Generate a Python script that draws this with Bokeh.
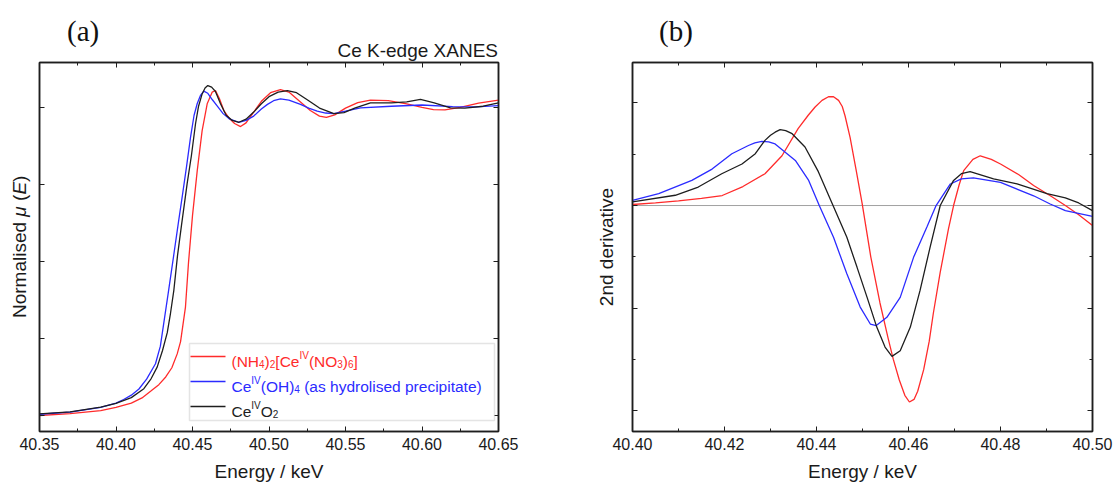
import math
from bokeh.plotting import figure
from bokeh.models import (LinearAxis, FixedTicker, PrintfTickFormatter, Label,
                          BoxAnnotation, Arrow, Span, CustomJSTickFormatter, Div)
from bokeh.layouts import row, column
from bokeh.embed import file_html
from bokeh.resources import INLINE

# ---------------- data: panel (a) Ce K-edge XANES ----------------
red_energy_a = [40.350, 40.370, 40.390, 40.400, 40.410, 40.417, 40.423, 40.428, 40.4325, 40.4365,
                40.4400, 40.4422, 40.4454, 40.4474, 40.4500, 40.4531, 40.4563, 40.4596, 40.4629, 40.4650,
                40.4675, 40.4705, 40.4740, 40.4775, 40.4814, 40.4850, 40.4900, 40.4950, 40.5010, 40.5075,
                40.5130, 40.5200, 40.5270, 40.5330, 40.5375, 40.5430, 40.5500, 40.5580, 40.5663, 40.5780,
                40.5900, 40.6000, 40.6075, 40.6150, 40.6250, 40.6370, 40.6500]
red_mu_a = [0.000, 0.006, 0.016, 0.026, 0.040, 0.057, 0.080, 0.100, 0.125, 0.155,
            0.200, 0.240, 0.352, 0.497, 0.649, 0.795, 0.925, 1.012, 1.050, 1.055,
            1.030, 0.990, 0.965, 0.948, 0.938, 0.950, 0.985, 1.020, 1.048, 1.058,
            1.050, 1.020, 0.990, 0.972, 0.968, 0.976, 0.998, 1.016, 1.024, 1.022,
            1.012, 1.000, 0.993, 0.992, 1.000, 1.014, 1.024]

blue_energy_a = [40.350, 40.370, 40.390, 40.400, 40.405, 40.410, 40.415, 40.420, 40.4258, 40.4290,
                 40.4312, 40.4343, 40.4376, 40.4408, 40.4435, 40.4461, 40.4487, 40.4510, 40.4531, 40.4552,
                 40.4574, 40.4600, 40.4630, 40.4661, 40.4700, 40.4740, 40.4803, 40.4850, 40.4900, 40.4950,
                 40.4990, 40.5030, 40.5075, 40.5130, 40.5206, 40.5260, 40.5315, 40.5370, 40.5424, 40.5500,
                 40.5598, 40.5800, 40.6000, 40.6200, 40.6350, 40.6500]
blue_mu_a = [0.004, 0.011, 0.026, 0.040, 0.052, 0.066, 0.086, 0.118, 0.168, 0.225,
             0.299, 0.403, 0.516, 0.627, 0.718, 0.808, 0.903, 0.974, 1.013, 1.039,
             1.053, 1.046, 1.025, 1.005, 0.980, 0.963, 0.952, 0.958, 0.972, 0.995,
             1.010, 1.022, 1.028, 1.024, 1.010, 0.998, 0.988, 0.982, 0.980, 0.988,
             0.999, 1.004, 1.008, 1.003, 1.002, 1.006]

black_energy_a = [40.350, 40.370, 40.390, 40.400, 40.410, 40.4182, 40.4230, 40.4269, 40.4304, 40.4335,
                  40.4356, 40.4378, 40.4402, 40.4428, 40.4465, 40.4493, 40.4520, 40.4539, 40.4563, 40.4582,
                  40.4600, 40.4625, 40.4650, 40.4683, 40.4720, 40.4760, 40.4803, 40.4850, 40.4900, 40.4950,
                  40.5000, 40.5060, 40.5120, 40.5180, 40.5250, 40.5330, 40.5424, 40.5490, 40.5560, 40.5663,
                  40.5800, 40.5900, 40.5990, 40.6080, 40.6186, 40.6280, 40.6400, 40.6500]
black_mu_a = [0.005, 0.012, 0.027, 0.039, 0.058, 0.087, 0.120, 0.157, 0.211, 0.269,
              0.331, 0.406, 0.519, 0.617, 0.753, 0.844, 0.948, 1.003, 1.044, 1.063,
              1.071, 1.066, 1.052, 1.012, 0.975, 0.958, 0.952, 0.962, 0.985, 1.012,
              1.035, 1.050, 1.055, 1.048, 1.025, 0.998, 0.980, 0.983, 0.998, 1.015,
              1.015, 1.018, 1.026, 1.015, 0.999, 0.998, 1.004, 1.015]

# ---------------- data: panel (b) 2nd derivative ----------------
red_energy_b = [40.400, 40.405, 40.410, 40.415, 40.4195, 40.4240, 40.4288, 40.4325, 40.4360, 40.4382,
                40.4397, 40.4412, 40.4426, 40.4437, 40.4448, 40.4456, 40.4462, 40.4473, 40.4486, 40.4499,
                40.4518, 40.4538, 40.4556, 40.4567, 40.4580, 40.4592, 40.4602, 40.4612, 40.4620, 40.4633,
                40.4645, 40.4654, 40.4669, 40.4687, 40.4698, 40.4710, 40.4720, 40.4740, 40.4756, 40.4780,
                40.4800, 40.4840, 40.4872, 40.4910, 40.4941, 40.4970, 40.5000]
red_d2_b = [0.02, 0.05, 0.09, 0.14, 0.195, 0.37, 0.62, 0.97, 1.50, 1.76,
            1.92, 2.05, 2.12, 2.12, 2.05, 1.93, 1.75, 1.33, 0.70, 0.05,
            -1.00, -1.90, -2.60, -3.00, -3.40, -3.70, -3.83, -3.78, -3.62, -3.20,
            -2.65, -2.10, -1.30, -0.45, 0.00, 0.40, 0.68, 0.90, 0.97, 0.90,
            0.81, 0.60, 0.39, 0.18, 0.00, -0.18, -0.39]

blue_energy_b = [40.400, 40.4057, 40.4129, 40.4173, 40.4216, 40.4252, 40.4266, 40.4281, 40.4296, 40.4310,
                 40.4354, 40.4383, 40.4406, 40.4437, 40.4466, 40.4495, 40.4517, 40.4530, 40.4553, 40.4582,
                 40.4611, 40.4640, 40.4660, 40.4691, 40.4715, 40.4741, 40.4800, 40.4872, 40.4908, 40.4941,
                 40.5000]
blue_d2_b = [0.10, 0.23, 0.49, 0.71, 1.01, 1.17, 1.22, 1.25, 1.24, 1.20,
             0.88, 0.49, 0.00, -0.62, -1.33, -1.98, -2.31, -2.34, -2.18, -1.79,
             -1.01, -0.42, 0.00, 0.42, 0.52, 0.54, 0.45, 0.19, 0.03, -0.10,
             -0.21]

black_energy_b = [40.400, 40.4093, 40.4143, 40.4194, 40.4238, 40.4267, 40.4288, 40.4300, 40.4310, 40.4321,
                  40.4333, 40.4347, 40.4375, 40.4404, 40.4435, 40.4466, 40.4488, 40.4510, 40.4531, 40.4549,
                  40.4564, 40.4582, 40.4604, 40.4625, 40.4647, 40.4669, 40.4698, 40.4715, 40.4734, 40.4785,
                  40.4836, 40.4901, 40.4941, 40.4970, 40.5000]
black_d2_b = [0.07, 0.20, 0.36, 0.62, 0.81, 1.01, 1.27, 1.37, 1.43, 1.48,
              1.46, 1.40, 1.14, 0.66, 0.02, -0.62, -1.20, -1.79, -2.37, -2.76,
              -2.94, -2.83, -2.37, -1.66, -0.81, 0.00, 0.49, 0.62, 0.66, 0.52,
              0.42, 0.23, 0.15, 0.05, -0.10]

# ---------------- ticks ----------------
ticks_x_a = [40.35, 40.40, 40.45, 40.50, 40.55, 40.60, 40.65]
minor_x_a = [40.375, 40.425, 40.475, 40.525, 40.575, 40.625]
ticks_y_a = [0.0, 0.25, 0.5, 0.75, 1.0]
ticks_x_b = [40.40, 40.42, 40.44, 40.46, 40.48, 40.50]
minor_x_b = [40.41, 40.43, 40.45, 40.47, 40.49]
ticks_y_b = [-4, -2, 0, 2]
minor_y_b = [-3, -1, 1]

# ---------------- texts ----------------
legend_rows = [
    [("(NH", "n"), ("4", "sub"), (")", "n"), ("2", "sub"), ("[Ce", "n"), ("IV", "sup"),
     ("(NO", "n"), ("3", "sub"), (")", "n"), ("6", "sub"), ("]", "n")],
    [("Ce", "n"), ("IV", "sup"), ("(OH)", "n"), ("4", "sub"), (" (as hydrolised precipitate)", "n")],
    [("Ce", "n"), ("IV", "sup"), ("O", "n"), ("2", "sub")],
]
panel_tag_a = "(a)"
panel_tag_b = "(b)"
title_a = "Ce K-edge XANES"
ylabel_a_html = "Normalised <i>\u03bc</i> (<i>E</i>)"
xlabel = "Energy / keV"
ylabel_b = "2nd derivative"

FONT = "Liberation Sans"
SERIF = "Liberation Serif"
RED = "#ff2b2b"
BLUE = "#2b2bff"
BLACK = "#1e1e1e"
TXT = "#1a1a1a"
series_colors = [RED, BLUE, BLACK]

HEAD_H = 60          # header strip holding the panel tags and the XANES title
FIG_H = 486 - HEAD_H
YLAB_W = 1           # thin holder for the rotated y label of panel (a) (text overflows right)

# Arial/Liberation Sans advance widths (per 1000 em)
WID = {'(': 333, ')': 333, '[': 278, ']': 278, 'N': 722, 'H': 722, 'C': 722, 'e': 556,
       'O': 778, 'I': 278, 'V': 667, ' ': 278, 'a': 556, 's': 500, 'h': 556, 'y': 500,
       'd': 556, 'r': 333, 'o': 556, 'l': 222, 'i': 222, 'p': 556, 'c': 500, 't': 278}


def text_width(s, size):
    return sum(WID.get(c, 556) for c in s) * size / 1000.0


def rich_text(p, parts, x0, y0, size, color):
    """Label made of runs (normal / sub / sup), in frame pixel units."""
    small = round(size * 0.65)
    adv = 0.0
    for txt, kind in parts:
        fs = small if kind in ("sub", "sup") else size
        lead = len(txt) - len(txt.lstrip(" "))
        adv += text_width(" " * lead, fs)
        txt = txt.lstrip(" ")
        shift = {"sub": -0.20 * size, "sup": 0.34 * size}.get(kind, 0.0)
        p.add_layout(Label(x=x0 + adv, y=y0 + shift, x_units="screen", y_units="screen",
                           text=txt, text_font=FONT, text_font_size=f"{fs}px",
                           text_color=color, text_align="left", text_baseline="alphabetic"))
        adv += text_width(txt, fs)


def style_axis(ax, labels):
    ax.axis_line_color = BLACK
    ax.axis_line_width = 1.5
    ax.major_tick_in = 5
    ax.major_tick_out = 0
    ax.minor_tick_in = 3
    ax.minor_tick_out = 0
    ax.major_tick_line_color = BLACK
    ax.minor_tick_line_color = BLACK
    if labels:
        ax.major_label_text_font = FONT
        ax.major_label_text_font_size = "16px"
        ax.major_label_text_color = TXT
        ax.major_label_standoff = 6
    else:
        ax.formatter = CustomJSTickFormatter(code="return ''")
        ax.major_label_text_font_size = "0px"
        ax.major_label_standoff = 0


def make_fig(x_range, y_range, width, left, right, xt, xminor, yt, yminor):
    p = figure(width=width, height=FIG_H, x_range=x_range, y_range=y_range,
               output_backend="svg", toolbar_location=None,
               min_border_left=left, min_border_right=right,
               min_border_top=2, min_border_bottom=55)
    p.add_layout(LinearAxis(), "above")
    p.add_layout(LinearAxis(), "right")
    for ax in p.xaxis:
        ax.ticker = FixedTicker(ticks=xt, minor_ticks=xminor)
    for ax in p.yaxis:
        ax.ticker = FixedTicker(ticks=yt, minor_ticks=yminor)
    p.below[0].formatter = PrintfTickFormatter(format="%.2f")
    style_axis(p.below[0], True)
    style_axis(p.above[0], False)
    style_axis(p.left[0], False)
    style_axis(p.right[0], False)
    p.below[0].axis_label = xlabel
    p.below[0].axis_label_text_font = FONT
    p.below[0].axis_label_text_font_size = "19px"
    p.below[0].axis_label_text_font_style = "normal"
    p.below[0].axis_label_text_color = TXT
    p.below[0].axis_label_standoff = 8
    p.xgrid.grid_line_color = None
    p.ygrid.grid_line_color = None
    p.outline_line_color = BLACK
    p.outline_line_width = 1.5
    p.background_fill_color = "white"
    p.border_fill_alpha = 0
    return p


def span_html(text, left=None, right=None, top=0.0, font=FONT, size=19, color=TXT, extra=""):
    pos = f"left:{left}px;" if left is not None else f"right:{right}px;"
    return (f'<span style="position:absolute;{pos}top:{top}px;font-family:\'{font}\';'
            f'font-size:{size}px;line-height:{size}px;color:{color};white-space:nowrap;{extra}">'
            f'{text}</span>')


def box_div(inner, w, h):
    return Div(text=f'<div style="position:relative;width:{w}px;height:{h}px;overflow:visible;">{inner}</div>',
               width=w, height=h, margin=(0, 0, 0, 0), styles={"overflow": "visible"})


# ---------------- panel (a) ----------------
pa = make_fig((40.35, 40.65), (-0.052, 1.146), 556 - YLAB_W, 39 - YLAB_W, 58,
              ticks_x_a, minor_x_a, ticks_y_a, [])
for xs, ys, c in zip([red_energy_a, blue_energy_a, black_energy_a],
                     [red_mu_a, blue_mu_a, black_mu_a], series_colors):
    pa.line(xs, ys, line_color=c, line_width=1.3)

# legend box and entries (frame pixel units)
pa.add_layout(BoxAnnotation(left=150, right=455, bottom=11, top=88,
                            left_units="screen", right_units="screen",
                            top_units="screen", bottom_units="screen",
                            fill_color="white", fill_alpha=1.0,
                            line_color="#a6a6a6", line_width=1.5))
for i, (parts, c) in enumerate(zip(legend_rows, series_colors)):
    ly = 75 - 25 * i
    pa.add_layout(Arrow(x_start=151, y_start=ly, x_end=186, y_end=ly,
                        start_units="screen", end_units="screen",
                        start=None, end=None, line_color=c, line_width=1.3))
    rich_text(pa, parts, 192, ly - 4.5, 15.5, c)

# ---------------- panel (b) ----------------
pb = make_fig((40.40, 40.50), (-4.405, 2.788), 557, 76, 21,
              ticks_x_b, minor_x_b, ticks_y_b, minor_y_b)
pb.add_layout(Span(location=0, dimension="width", line_color="#444444",
                   line_dash="1 1", line_width=1, level="underlay"))
for xs, ys, c in zip([red_energy_b, blue_energy_b, black_energy_b],
                     [red_d2_b, blue_d2_b, black_d2_b], series_colors):
    pb.line(xs, ys, line_color=c, line_width=1.3)

pb.left[0].axis_label = ylabel_b
pb.left[0].axis_label_text_font = FONT
pb.left[0].axis_label_text_font_size = "19px"
pb.left[0].axis_label_text_font_style = "normal"
pb.left[0].axis_label_text_color = TXT
pb.left[0].axis_label_standoff = 16

# ---------------- header strip and rotated y label ----------------
head_a = box_div(span_html(panel_tag_a, left=67, top=16.7, font=SERIF, size=29, color="#111111")
                 + span_html(title_a, right=58, top=40.9), 556, HEAD_H)
head_b = box_div(span_html(panel_tag_b, left=103, top=16.7, font=SERIF, size=29, color="#111111"),
                 557, HEAD_H)
ylab_a = box_div(span_html(ylabel_a_html, left=11.4 - YLAB_W, top=318 - HEAD_H,
                           extra="transform-origin:0 0;transform:rotate(-90deg);"),
                 YLAB_W, FIG_H)

layout = column(row(head_a, head_b), row(ylab_a, pa, pb))
open("out.html", "w").write(file_html(layout, INLINE))
